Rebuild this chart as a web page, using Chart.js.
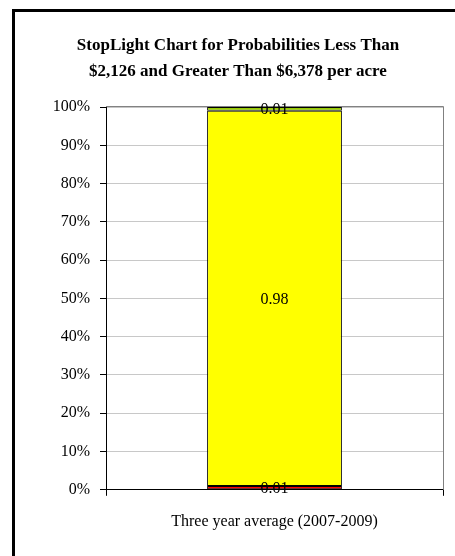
<!DOCTYPE html>
<html>
<head>
<meta charset="utf-8">
<script src="https://cdn.jsdelivr.net/npm/chart.js@4"></script>
<style>
    html, body { margin: 0; padding: 0; background: #fff; overflow: hidden; }
    #wrap { position: relative; width: 455px; height: 556px; overflow: hidden; }
    #frame { position: absolute; left: 12px; top: 9px; width: 600px; height: 700px;
             border-top: 3px solid #000; border-left: 3px solid #000; }
    #cv { position: absolute; left: 0; top: 0; }
</style>
</head>
<body>
<div id="wrap">
    <div id="frame"></div>
    <canvas id="cv" width="476" height="556"></canvas>
</div>
<script>
const categories = ["Three year average (2007-2009)"];
const lowValues = [0.01];
const midValues = [0.98];
const highValues = [0.01];
const yTicks = [0, 0.1, 0.2, 0.3, 0.4, 0.5, 0.6, 0.7, 0.8, 0.9, 1.0];

const FONT = "'Liberation Serif', 'Times New Roman', serif";

// draws the number in the middle of each bar piece
const barLabels = {
    id: "barLabels",
    afterDatasetsDraw(chart) {
        const ctx = chart.ctx;
        ctx.save();
        ctx.font = "16px " + FONT;
        ctx.fillStyle = "#000";
        ctx.textAlign = "center";
        ctx.textBaseline = "middle";
        chart.data.datasets.forEach((ds, i) => {
            chart.getDatasetMeta(i).data.forEach((bar, j) => {
                const p = bar.getProps(["x", "y", "base"], true);
                ctx.fillText(ds.data[j].toFixed(2), p.x, (p.y + p.base) / 2 + 1);
            });
        });
        ctx.restore();
    }
};

// grey plot area outline like the spreadsheet
const plotBorder = {
    id: "plotBorder",
    beforeDatasetsDraw(chart) {
        const a = chart.chartArea;
        const ctx = chart.ctx;
        ctx.save();
        ctx.strokeStyle = "#808080";
        ctx.lineWidth = 1;
        ctx.beginPath();
        ctx.moveTo(a.left, a.top - 0.5);
        ctx.lineTo(a.right + 0.5, a.top - 0.5);
        ctx.lineTo(a.right + 0.5, a.bottom);
        ctx.stroke();
        ctx.restore();
    }
};

new Chart(document.getElementById("cv"), {
    type: "bar",
    data: {
        labels: categories,
        datasets: [
            { data: lowValues, backgroundColor: "#ff0000" },
            { data: midValues, backgroundColor: "#ffff00" },
            { data: highValues, backgroundColor: "#99cc00" }
        ].map(d => Object.assign(d, {
            borderColor: "#000",
            borderWidth: 1,
            borderSkipped: false,
            barPercentage: 0.4,
            categoryPercentage: 1
        }))
    },
    options: {
        responsive: false,
        animation: false,
        devicePixelRatio: 1,
        layout: { padding: { left: 33, right: 33, top: 0, bottom: 9 } },
        plugins: {
            legend: { display: false },
            tooltip: { enabled: false },
            title: {
                display: true,
                text: ["StopLight Chart for Probabilities Less Than",
                       "$2,126 and Greater Than $6,378 per acre"],
                color: "#000",
                font: { family: FONT, size: 17, weight: "bold", lineHeight: 1.53 },
                padding: { top: 33, bottom: 22 }
            }
        },
        scales: {
            x: {
                stacked: true,
                border: { color: "#000", width: 1 },
                grid: { drawOnChartArea: false, tickLength: 6, tickColor: "#000" },
                ticks: { color: "#000", font: { family: FONT, size: 16 }, padding: 16 }
            },
            y: {
                stacked: true,
                min: 0,
                max: 1,
                afterFit(scale) { scale.width = 73; },
                afterBuildTicks(scale) { scale.ticks = yTicks.map(v => ({ value: v })); },
                border: { color: "#000", width: 1 },
                grid: { color: "#c8c8c8", tickLength: 6, tickColor: "#000" },
                ticks: {
                    color: "#000",
                    font: { family: FONT, size: 16 },
                    padding: 10,
                    callback: v => Math.round(v * 100) + "%"
                }
            }
        }
    },
    plugins: [plotBorder, barLabels]
});
</script>
</body>
</html>
